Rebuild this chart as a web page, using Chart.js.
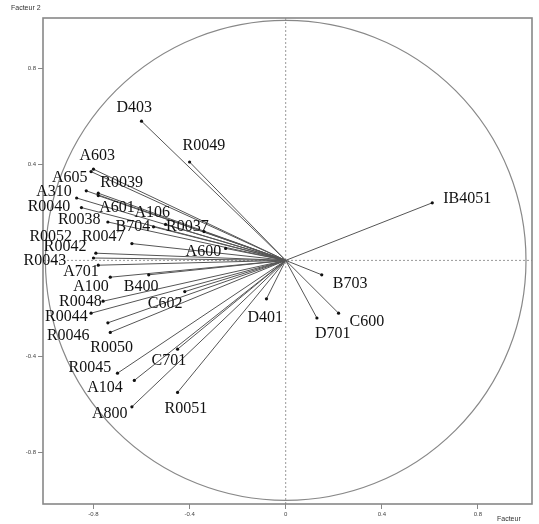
<!DOCTYPE html>
<html>
<head>
<meta charset="utf-8">
<script src="https://cdn.jsdelivr.net/npm/chart.js@4/dist/chart.umd.min.js"></script>
<style>
  html, body { margin: 0; padding: 0; background: #fff; }
  canvas { display: block; }
</style>
</head>
<body>
<canvas id="cercle" width="539" height="524"></canvas>
<script>
// variables (noms)
const labels = ['IB4051', 'D403', 'R0049', 'A603', 'A605', 'R0039', 'A310', 'A601', 'R0040',
    'R0038', 'B704', 'A106', 'R0037', 'R0052', 'R0047', 'R0042', 'R0043', 'A600',
    'A701', 'A100', 'B400', 'R0048', 'C602', 'R0044', 'R0046', 'R0050', 'R0045',
    'C701', 'A104', 'A800', 'R0051', 'D401', 'B703', 'C600', 'D701'];

// coordonnées sur le facteur 1
const facteur1 = [0.61, -0.60, -0.40, -0.80, -0.81, -0.78, -0.83, -0.78, -0.87,
    -0.74, -0.55, -0.50, -0.34, -0.85, -0.64, -0.79, -0.80, -0.25,
    -0.78, -0.73, -0.57, -0.76, -0.42, -0.81, -0.74, -0.73, -0.70,
    -0.45, -0.63, -0.64, -0.45, -0.08, 0.15, 0.22, 0.13];

// coordonnées sur le facteur 2
const facteur2 = [0.24, 0.58, 0.41, 0.38, 0.37, 0.28, 0.29, 0.27, 0.26,
    0.16, 0.14, 0.15, 0.12, 0.22, 0.07, 0.03, 0.01, 0.05,
    -0.02, -0.07, -0.06, -0.17, -0.13, -0.22, -0.26, -0.30, -0.47,
    -0.37, -0.50, -0.61, -0.55, -0.16, -0.06, -0.22, -0.24];

// graduations
const xTicks = [-0.8, -0.4, 0, 0.4, 0.8];
const yTicks = [0.8, 0.4, -0.4, -0.8];

// décalage des étiquettes en pixels [dx, dy]
const labelOffsets = [[11, -4], [-25, -13], [-7, -16], [-14, -13], [-39, 6], [2, -10], [-50, 1], [1, 12], [-49, 9],
    [-50, -2], [-38, 0], [-31, -12], [-38, -5], [-52, 29], [-50, -7], [-52, -6], [-70, 3], [-40, 3],
    [-35, 7], [-37, 10], [-25, 12], [-44, 1], [-37, 12], [-46, 4], [-61, 13], [-20, 15], [-49, -5],
    [-26, 12], [-47, 7], [-40, 7], [-13, 16], [-19, 19], [11, 9], [11, 9], [-2, 16]];

const points = labels.map((l, i) => ({ x: facteur1[i], y: facteur2[i] }));

// cercle, axes en pointillé, vecteurs
const cerclePlugin = {
    id: 'cercle',
    beforeDatasetsDraw(chart) {
        const { ctx, chartArea: a, scales: { x, y } } = chart;
        const x0 = x.getPixelForValue(0), y0 = y.getPixelForValue(0);
        ctx.save();
        // axes pointillés
        ctx.strokeStyle = '#999';
        ctx.lineWidth = 1;
        ctx.setLineDash([2, 2]);
        ctx.beginPath();
        ctx.moveTo(x0, a.top); ctx.lineTo(x0, a.bottom);
        ctx.moveTo(a.left, y0); ctx.lineTo(a.right, y0);
        ctx.stroke();
        ctx.setLineDash([]);
        // cercle des corrélations
        ctx.strokeStyle = '#888';
        ctx.lineWidth = 1.2;
        ctx.beginPath();
        ctx.ellipse(x0, y0, x.getPixelForValue(1) - x0, y0 - y.getPixelForValue(1), 0, 0, Math.PI * 2);
        ctx.stroke();
        // vecteurs
        ctx.strokeStyle = '#555';
        ctx.lineWidth = 1;
        points.forEach(p => {
            ctx.beginPath();
            ctx.moveTo(x0, y0);
            ctx.lineTo(x.getPixelForValue(p.x), y.getPixelForValue(p.y));
            ctx.stroke();
        });
        ctx.restore();
    },
    afterDatasetsDraw(chart) {
        const { ctx, chartArea: a, scales: { x, y } } = chart;
        ctx.save();
        // cadre
        ctx.strokeStyle = '#888';
        ctx.lineWidth = 1.6;
        ctx.strokeRect(a.left, a.top, a.right - a.left, a.bottom - a.top);
        // étiquettes
        ctx.fillStyle = '#111';
        ctx.font = '16px "Liberation Serif", "DejaVu Serif", serif';
        ctx.textBaseline = 'middle';
        ctx.textAlign = 'left';
        points.forEach((p, i) => {
            const [dx, dy] = labelOffsets[i];
            ctx.fillText(labels[i], x.getPixelForValue(p.x) + dx, y.getPixelForValue(p.y) + dy);
        });
        // titres des axes
        ctx.fillStyle = '#333';
        ctx.font = '7px "Liberation Sans", Arial, sans-serif';
        ctx.fillText('Facteur 2', 11, 8);
        ctx.fillText('Facteur', 497, 519);
        ctx.restore();
    }
};

new Chart(document.getElementById('cercle'), {
    type: 'scatter',
    data: {
        datasets: [{
            data: points,
            pointRadius: 1.6,
            pointHoverRadius: 1.6,
            backgroundColor: '#111',
            borderColor: '#111',
            borderWidth: 0
        }]
    },
    options: {
        responsive: false,
        animation: false,
        devicePixelRatio: 1,
        layout: { padding: { top: 18, right: 7, left: 0, bottom: 0 } },
        plugins: {
            legend: { display: false },
            tooltip: { enabled: false }
        },
        scales: {
            x: {
                type: 'linear',
                min: -1.01,
                max: 1.025,
                afterBuildTicks: s => { s.ticks = xTicks.map(v => ({ value: v })); },
                afterFit: s => { s.height = 20; },
                grid: { drawOnChartArea: false, drawTicks: true, tickLength: 5, color: '#888' },
                border: { display: false },
                ticks: {
                    color: '#444',
                    padding: 2,
                    font: { size: 6, family: 'Liberation Sans' },
                    callback: v => String(v)
                }
            },
            y: {
                type: 'linear',
                min: -1.015,
                max: 1.01,
                afterBuildTicks: s => { s.ticks = yTicks.map(v => ({ value: v })); },
                afterFit: s => { s.width = 43; },
                grid: { drawOnChartArea: false, drawTicks: true, tickLength: 5, color: '#888' },
                border: { display: false },
                ticks: {
                    color: '#444',
                    padding: 2,
                    font: { size: 6, family: 'Liberation Sans' },
                    callback: v => String(v)
                }
            }
        }
    },
    plugins: [cerclePlugin]
});
</script>
</body>
</html>
